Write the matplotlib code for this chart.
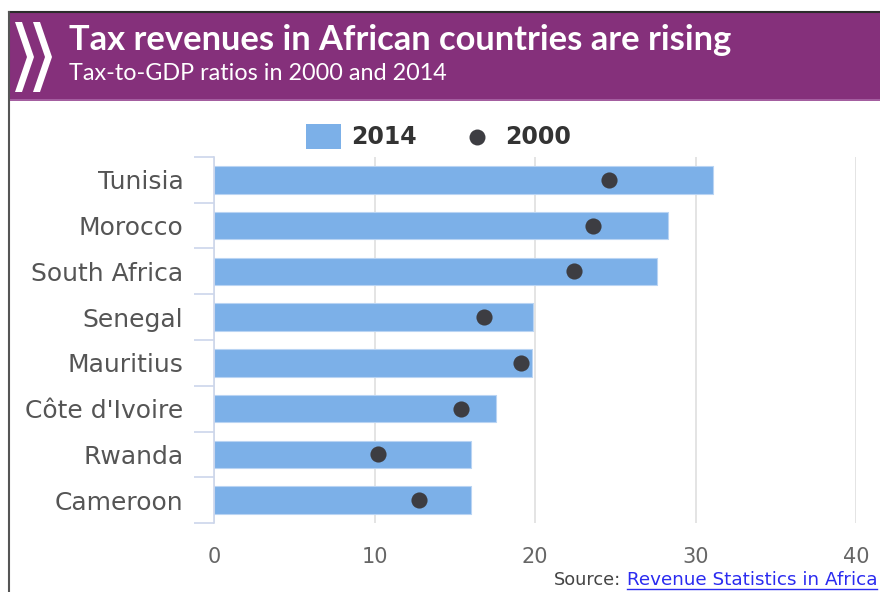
import matplotlib
matplotlib.use("Agg")
import matplotlib.pyplot as plt
from matplotlib.patches import Rectangle, Polygon
from matplotlib.lines import Line2D

# Tax-to-GDP ratios (%), top to bottom
COUNTRIES = [
	"Tunisia",
	"Morocco",
	"South Africa",
	"Senegal",
	"Mauritius",
	"Côte d'Ivoire",
	"Rwanda",
	"Cameroon",
]
VALUES_2014 = [31.1, 28.3, 27.6, 19.9, 19.8, 17.6, 16.0, 16.0]
VALUES_2000 = [24.6, 23.6, 22.4, 16.8, 19.1, 15.4, 10.2, 12.8]
X_TICKS = [0, 10, 20, 30, 40]

W, H = 880, 592
PURPLE = "#85307b"
BAR_BLUE = "#7cb0e8"
DOT_GREY = "#3d3d42"
AXIS_BLUE = "#ccd6eb"


def fx(px):
	return px / W


def fy(py):
	return 1 - py / H


fig = plt.figure(figsize=(W / 100, H / 100), dpi=100)
fig.patch.set_facecolor("white")

# header band with frame lines
fig.add_artist(Rectangle((fx(9), fy(101)), 1, fy(13) - fy(101), transform=fig.transFigure,
	facecolor=PURPLE, edgecolor="none"))
fig.add_artist(Rectangle((fx(9), fy(101)), 1, fy(99) - fy(101), transform=fig.transFigure,
	facecolor="#a45ea0", edgecolor="none"))
fig.add_artist(Line2D([fx(8.5), 1], [fy(12), fy(12)], transform=fig.transFigure, color="#2b2b2b", lw=1.5))
fig.add_artist(Line2D([fx(8.5), fx(8.5)], [0, fy(12)], transform=fig.transFigure, color="#555555", lw=1.5))

# double chevron logo
for dx in (0, 18):
	pts = [(15 + dx, 22), (22 + dx, 22), (34 + dx, 57), (22 + dx, 92), (15 + dx, 92), (27 + dx, 57)]
	fig.add_artist(Polygon([(fx(x), fy(y)) for x, y in pts], closed=True, transform=fig.transFigure,
		facecolor="white", edgecolor="none"))

fig.text(fx(69), fy(40), "Tax revenues in African countries are rising", color="white",
	family="Lato", weight="bold", fontsize=24.8, va="center", ha="left")
fig.text(fx(69), fy(74), "Tax-to-GDP ratios in 2000 and 2014", color="white",
	family="Lato", fontsize=16.8, va="center", ha="left")

# chart area
ax = fig.add_axes([fx(214), fy(523), fx(856) - fx(214), fy(157) - fy(523)])
ypos = list(range(len(COUNTRIES)))
ax.barh(ypos, VALUES_2014, height=0.6, color=BAR_BLUE, edgecolor="#b9d4f3", linewidth=0.8, zorder=2)
ax.scatter(VALUES_2000, ypos, s=135, color=DOT_GREY, zorder=3, linewidths=0)

ax.set_xlim(0, 40)
ax.set_ylim(len(COUNTRIES) - 0.5, -0.5)
ax.set_xticks(X_TICKS)
ax.set_xticklabels([str(t) for t in X_TICKS])
ax.set_yticks(ypos)
ax.set_yticklabels(COUNTRIES)
ax.set_yticks([i - 0.5 for i in range(len(COUNTRIES) + 1)], minor=True)

ax.tick_params(axis="x", length=0, pad=17, labelsize=15, labelcolor="#666666")
ax.tick_params(axis="y", which="major", length=0, pad=22, labelsize=18, labelcolor="#555555")
ax.tick_params(axis="y", which="minor", length=14.4, width=1.2, color=AXIS_BLUE)

ax.grid(axis="x", color="#e2e2e2", linewidth=1.3, zorder=0)
ax.set_axisbelow(True)
for side in ("top", "right", "bottom"):
	ax.spines[side].set_visible(False)
ax.spines["left"].set_color(AXIS_BLUE)
ax.spines["left"].set_linewidth(1.2)
ax.spines["left"].set_zorder(4)

# legend
fig.add_artist(Rectangle((fx(306), fy(149)), fx(341) - fx(306), fy(124) - fy(149),
	transform=fig.transFigure, facecolor=BAR_BLUE, edgecolor="none"))
fig.text(fx(351), fy(137), "2014", color="#333333", weight="bold", fontsize=17, va="center", ha="left")
fig.add_artist(Line2D([fx(477)], [fy(137)], transform=fig.transFigure, marker="o", markersize=11.5,
	color=DOT_GREY, markeredgewidth=0, linestyle="none"))
fig.text(fx(505), fy(137), "2000", color="#333333", weight="bold", fontsize=17, va="center", ha="left")

# source line
fig.text(fx(554), fy(580), "Source:", color="#444444", fontsize=12.8, va="center", ha="left")
link = fig.text(fx(627), fy(580), "Revenue Statistics in Africa", color="#2b2bf0", fontsize=13.2,
	va="center", ha="left")
fig.add_artist(Line2D([fx(627), fx(877)], [fy(589), fy(589)], transform=fig.transFigure,
	color="#2b2bf0", lw=1))

fig.savefig("out.png", dpi=100)
